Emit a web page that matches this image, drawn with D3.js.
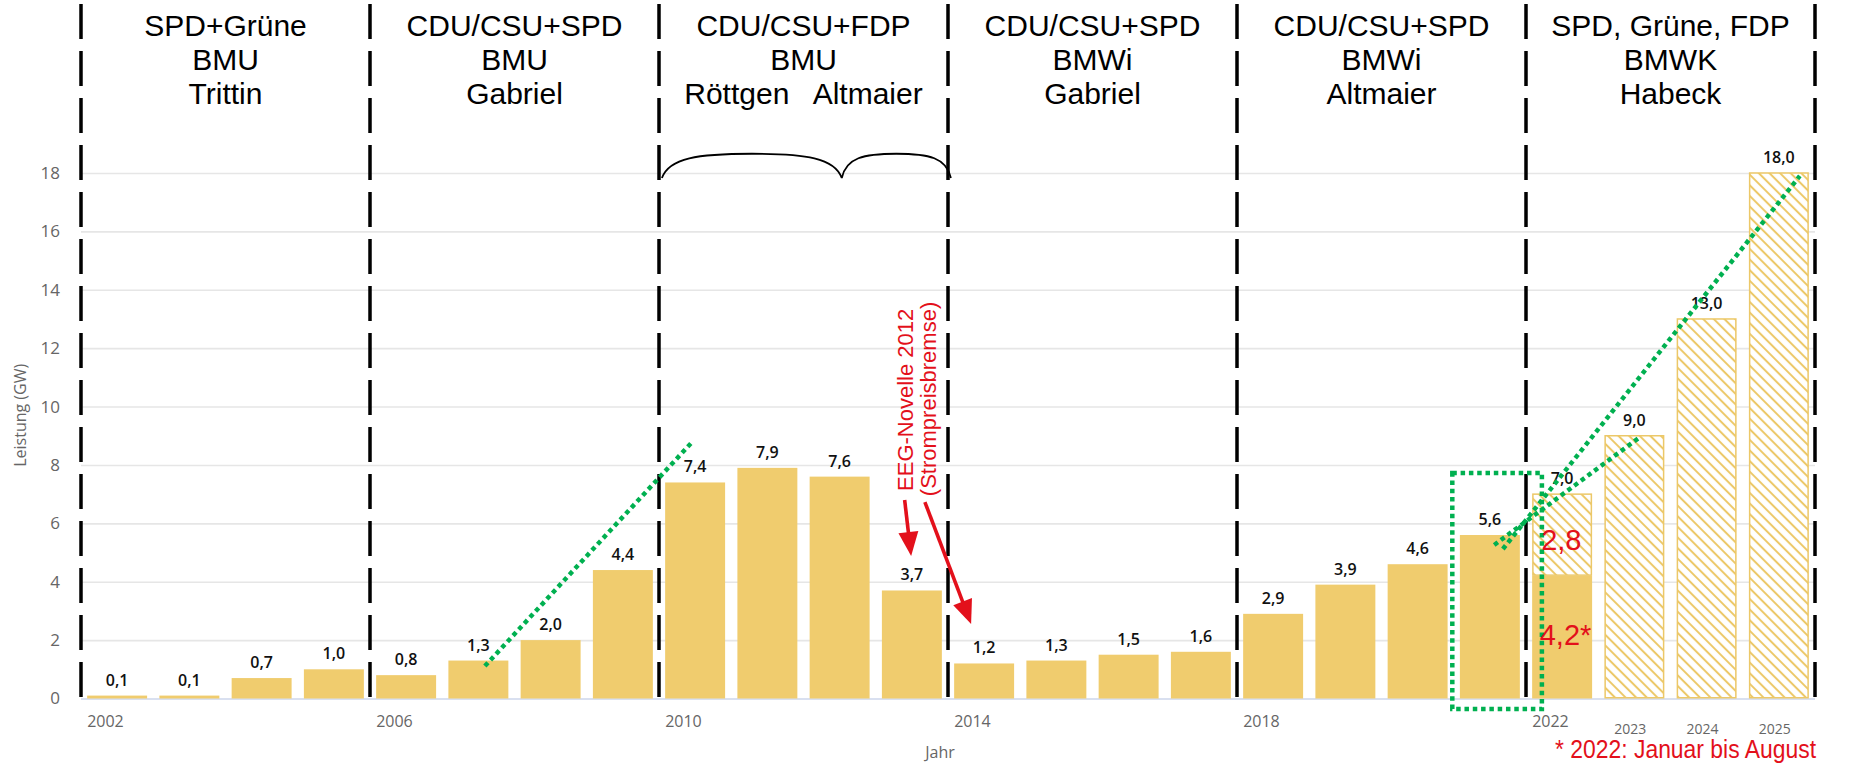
<!DOCTYPE html>
<html><head><meta charset="utf-8">
<script src="https://cdn.jsdelivr.net/npm/d3@7/dist/d3.min.js"></script>
<style>
html,body{margin:0;padding:0;background:#fff;}
svg{display:block;}
</style></head><body>
<svg id="chart" width="1854" height="765"></svg>
<script>
// ---------------- data ----------------
const years = [2002,2003,2004,2005,2006,2007,2008,2009,2010,2011,2012,2013,2014,2015,2016,2017,2018,2019,2020,2021,2022,2023,2024,2025];
const installedGW = [0.1,0.1,0.7,1.0,0.8,1.3,2.0,4.4,7.4,7.9,7.6,3.7,1.2,1.3,1.5,1.6,2.9,3.9,4.6,5.6,4.2,0,0,0];
const plannedGW = [null,null,null,null,null,null,null,null,null,null,null,null,null,null,null,null,null,null,null,null,7.0,9.0,13.0,18.0];
const yTicks = [0,2,4,6,8,10,12,14,16,18];
const majorTickYears = [2002,2006,2010,2014,2018,2022];
const minorTickYears = [2023,2024,2025];
const periodStarts = [2002,2006,2010,2014,2018,2022];
const periodEnd = 2026;
const coalitions = ["SPD+Grüne","CDU/CSU+SPD","CDU/CSU+FDP","CDU/CSU+SPD","CDU/CSU+SPD","SPD, Grüne, FDP"];
const ministries = ["BMU","BMU","BMU","BMWi","BMWi","BMWK"];
const ministers = ["Trittin","Gabriel","Röttgen   Altmaier","Gabriel","Altmaier","Habeck"];
// annotations in data units [year-position, GW]
const trend2007 = [[2007.59,1.11],[2010.46,8.79]];
const trend2021a = [[2021.68,5.12],[2025.79,17.90]];
const trend2021b = [[2021.56,5.26],[2023.58,8.96]];
const highlightBox = [[2020.98,7.72],[2022.22,-0.36]];
const arrowA = [[2013.40,6.80],[2013.49,4.88]];
const arrowB = [[2013.68,6.73],[2014.32,2.55]];
const braceX = [2010.04,2012.53,2014.04];
const braceY = [17.83,18.66];
const eegLabel = {text:"EEG-Novelle 2012", x:2013.52, y:10.23};
const eegLabel2 = {text:"(Strompreisbremse)", x:2013.83, y:10.26};
const splitLabels = [{text:"2,8", x:2022.21, y:5.09},{text:"4,2*", x:2022.19, y:1.83}];
const footnote = "* 2022: Januar bis August";

// ---------------- setup ----------------
const svg = d3.select("#chart");
const X0 = 81, X1 = 1815;
const y = d3.scaleLinear().domain([0,18]).range([698.5,173]);
const xc = d3.scaleLinear().domain([2002,periodEnd]).range([X0,X1]);
const xb = d3.scaleBand().domain(years).range([X0,X1]).paddingInner(0.17).paddingOuter(0.085);
const fmt = v => d3.format(".1f")(v).replace(".",",");
const GOLD = "#f0cc6e", HATCH = "#ecc868", GREEN = "#00b050", RED = "#e3101b";
const narrow = "'Liberation Sans Narrow','Open Sans',sans-serif";

const defs = svg.append("defs");
const pat = defs.append("pattern").attr("id","hatch").attr("patternUnits","userSpaceOnUse")
  .attr("width",7.5).attr("height",7.5).attr("patternTransform","rotate(45)");
pat.append("rect").attr("width",7.5).attr("height",7.5).attr("fill","#fff");
pat.append("line").attr("x1",0).attr("x2",7.5).attr("y1",3.75).attr("y2",3.75)
  .attr("stroke",HATCH).attr("stroke-width",2);

// gridlines + y axis
const yAxis = d3.axisLeft(y).tickValues(yTicks).tickSize(-(X1-X0)).tickFormat(d3.format("d"));
const gy = svg.append("g").attr("transform",`translate(${X0},0)`).call(yAxis);
gy.select(".domain").remove();
gy.selectAll(".tick line").attr("stroke",d=>d===0?"#ccd6eb":"#e6e6e6").attr("stroke-width",1.6);
gy.selectAll(".tick text").attr("x",-21).attr("fill","#666")
  .style("font-family","'Open Sans',sans-serif").style("font-size","17px");

svg.append("text").attr("transform",`translate(26,${(y(9.7))}) rotate(-90)`)
  .attr("text-anchor","middle").attr("fill","#666")
  .style("font-family","'Open Sans',sans-serif").style("font-size","16px").text("Leistung (GW)");

// bars
const data = years.map((yr,i)=>({yr, act:installedGW[i], plan:plannedGW[i]}));
svg.append("g").selectAll("rect").data(data.filter(d=>d.act>0)).join("rect")
  .attr("x",d=>xb(d.yr)).attr("width",xb.bandwidth())
  .attr("y",d=>y(d.act)).attr("height",d=>y(0)-y(d.act)).attr("fill",GOLD);
svg.append("g").selectAll("rect").data(data.filter(d=>d.plan!=null)).join("rect")
  .attr("x",d=>xb(d.yr)+0.75).attr("width",xb.bandwidth()-1.5)
  .attr("y",d=>y(d.plan)).attr("height",d=>y(d.act)-y(d.plan)-0.75)
  .attr("fill","url(#hatch)").attr("stroke",HATCH).attr("stroke-width",1.5);

// value labels
svg.append("g").selectAll("text").data(data).join("text")
  .attr("x",d=>xb(d.yr)+xb.bandwidth()/2).attr("y",d=>y(d.plan!=null?d.plan:d.act)-10)
  .attr("text-anchor","middle").attr("fill","#111")
  .style("font-family","'Open Sans',sans-serif").style("font-weight","600").style("font-size","16px")
  .text(d=>fmt(d.plan!=null?d.plan:d.act));

// x axis labels
svg.append("g").selectAll("text").data(majorTickYears).join("text")
  .attr("x",d=>xb(d)).attr("y",727).attr("fill","#666")
  .style("font-family",narrow).style("font-size","16px").text(d=>d);
svg.append("g").selectAll("text").data(minorTickYears).join("text")
  .attr("x",d=>xb(d)+xb.bandwidth()/2-4).attr("y",734).attr("text-anchor","middle").attr("fill","#666")
  .style("font-family",narrow).style("font-size","14px").text(d=>d);
svg.append("text").attr("x",940).attr("y",758).attr("text-anchor","middle").attr("fill","#666")
  .style("font-family",narrow).style("font-size","16px").text("Jahr");

// dashed period separators
const bounds = periodStarts.concat([periodEnd]);
svg.append("g").selectAll("line").data(bounds).join("line")
  .attr("x1",d=>xc(d)).attr("x2",d=>xc(d)).attr("y1",4).attr("y2",700)
  .attr("stroke","#000").attr("stroke-width",3.5).attr("stroke-dasharray","35 12");

// headers
const hdr = svg.append("g").style("font-family","'Liberation Sans',Arial,sans-serif").style("font-size","30px").attr("fill","#000");
periodStarts.forEach((s,i)=>{
  const cx = (xc(s)+xc(bounds[i+1]))/2;
  [coalitions[i],ministries[i],ministers[i]].forEach((t,j)=>{
    hdr.append("text").attr("x",cx).attr("y",36+j*34).attr("text-anchor","middle")
      .style("white-space","pre").text(t);
  });
});

// brace
const bx = braceX.map(xc), byE = y(braceY[0]), byT = y(braceY[1]);
const arch = (a,b)=>{
  const w=b-a;
  return `M${a},${byE} C${a+w*0.04},${byT+4} ${a+w*0.2},${byT} ${a+w*0.5},${byT} C${a+w*0.8},${byT} ${a+w*0.96},${byT+4} ${b},${byE}`;
};
svg.append("path").attr("d",arch(bx[0],bx[1])+" "+arch(bx[1],bx[2]))
  .attr("fill","none").attr("stroke","#000").attr("stroke-width",1.8);

// green highlights
const gg = svg.append("g").attr("fill","none").attr("stroke",GREEN).attr("stroke-width",4.5).attr("stroke-dasharray","4.5 3.8");
[trend2007,trend2021a,trend2021b].forEach(l=>{
  gg.append("line").attr("x1",xc(l[0][0])).attr("y1",y(l[0][1])).attr("x2",xc(l[1][0])).attr("y2",y(l[1][1]));
});
gg.append("rect").attr("x",xc(highlightBox[0][0])).attr("y",y(highlightBox[0][1]))
  .attr("width",xc(highlightBox[1][0])-xc(highlightBox[0][0])).attr("height",y(highlightBox[1][1])-y(highlightBox[0][1]));

// red annotations
const rg = svg.append("g");
function arrow(a){
  const x1=xc(a[0][0]), y1=y(a[0][1]), x2=xc(a[1][0]), y2=y(a[1][1]);
  const dx=x2-x1, dy=y2-y1, L=Math.hypot(dx,dy), ux=dx/L, uy=dy/L, nx=-uy, ny=ux;
  const hl=24, hw=10;
  rg.append("line").attr("x1",x1).attr("y1",y1).attr("x2",x2-ux*hl*0.8).attr("y2",y2-uy*hl*0.8)
    .attr("stroke",RED).attr("stroke-width",3.6);
  rg.append("path").attr("d",`M${x2},${y2} L${x2-ux*hl+nx*hw},${y2-uy*hl+ny*hw} L${x2-ux*hl-nx*hw},${y2-uy*hl-ny*hw} Z`).attr("fill",RED);
}
arrow(arrowA); arrow(arrowB);
[eegLabel,eegLabel2].forEach(t=>{
  const px=xc(t.x), py=y(t.y);
  rg.append("text").attr("transform",`translate(${px},${py}) rotate(-90)`).attr("text-anchor","middle")
    .attr("fill",RED).style("font-family","'Liberation Sans',Arial,sans-serif").style("font-size","22px").text(t.text);
});
splitLabels.forEach(t=>{
  rg.append("text").attr("x",xc(t.x)).attr("y",y(t.y)).attr("fill",RED)
    .style("font-family","'Liberation Sans',Arial,sans-serif").style("font-size","29px").text(t.text);
});
rg.append("text").attr("x",1555).attr("y",758).attr("fill",RED).attr("textLength",261).attr("lengthAdjust","spacingAndGlyphs")
  .style("font-family","'Liberation Sans',Arial,sans-serif").style("font-size","25px").text(footnote);
</script>
</body></html>
